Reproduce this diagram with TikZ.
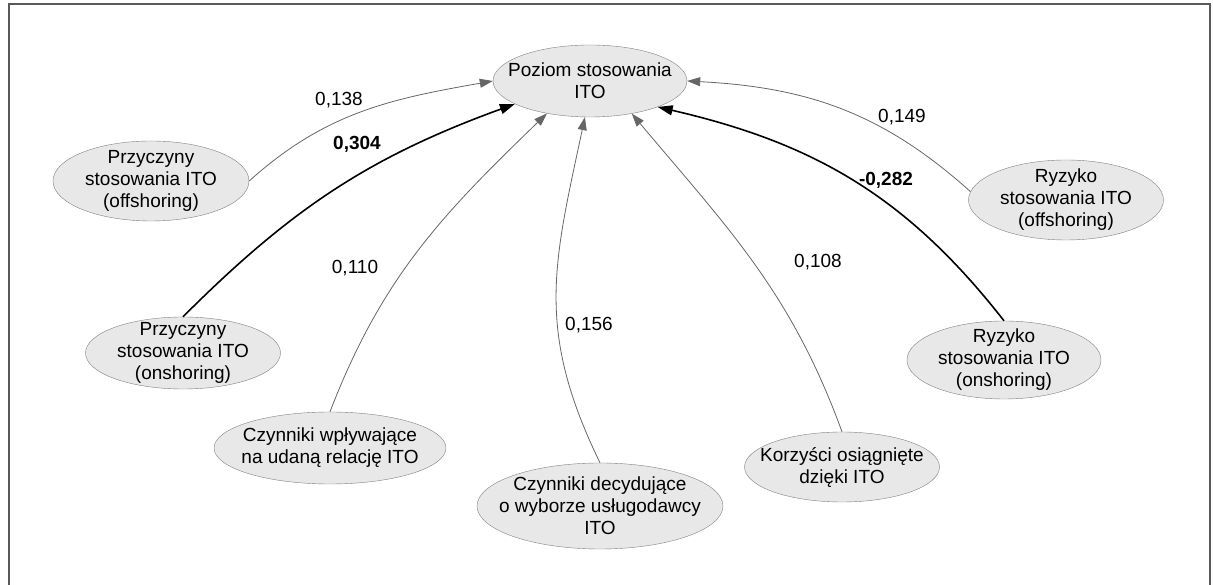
\documentclass[tikz,border=0pt]{standalone}
\usepackage{fontspec}
\setmainfont{Liberation Sans}
\usetikzlibrary{shapes.geometric,arrows.meta}

\begin{document}
\begin{tikzpicture}[x=1pt,y=1pt,
  factor/.style={ellipse,draw=gray,fill=gray!18,inner sep=0pt},
  ftext/.style={align=center,inner sep=0pt,font=\fontsize{19}{22}\selectfont},
  coef/.style={inner sep=0pt,font=\fontsize{19}{22}\selectfont},
  weak/.style={draw=black!60,line width=0.8pt,-{Triangle[length=13pt,width=9pt]}},
  strong/.style={draw=black,line width=1.6pt,-{Triangle[length=15pt,width=10pt]}}]
			\useasboundingbox (0,0) rectangle (1213,585);
			\draw[gray!70!black,line width=1.5pt] (9,0) -- (9,581) -- (1210,581) -- (1210,0);
			\node[factor,minimum width=194pt,minimum height=72pt] (poz) at (590,504) {};
			\node[ftext] (poz-t) at (poz) {Poziom stosowania\\ITO};
			\node[factor,minimum width=196pt,minimum height=80pt] (poff) at (151,404) {};
			\node[ftext] (poff-t) at (poff) {Przyczyny\\stosowania ITO\\(offshoring)};
			\node[factor,minimum width=195pt,minimum height=72pt] (pon) at (183,232) {};
			\node[ftext] (pon-t) at (pon) {Przyczyny\\stosowania ITO\\(onshoring)};
			\node[factor,minimum width=232pt,minimum height=72pt] (wpl) at (330,137) {};
			\node[ftext] (wpl-t) at (wpl) {Czynniki wpływające\\na udaną relację ITO};
			\node[factor,minimum width=246pt,minimum height=86pt] (dec) at (600,79) {};
			\node[ftext] (dec-t) at (dec) {Czynniki decydujące\\o wyborze usługodawcy\\ITO};
			\node[factor,minimum width=195pt,minimum height=70pt] (korz) at (842,118) {};
			\node[ftext] (korz-t) at (korz) {Korzyści osiągnięte\\dzięki ITO};
			\node[factor,minimum width=194pt,minimum height=78pt] (ron) at (1004,225) {};
			\node[ftext] (ron-t) at (ron) {Ryzyko\\stosowania ITO\\(onshoring)};
			\node[factor,minimum width=195pt,minimum height=80pt] (roff) at (1066,385) {};
			\node[ftext] (roff-t) at (roff) {Ryzyko\\stosowania ITO\\(offshoring)};
			\draw[weak] (poff.east) to[out=42,in=190] (poz.west);
			\draw[strong] (pon.north) to[out=45,in=200] (poz.197);
			\draw[weak] (wpl.north) to[out=69,in=224] (poz.217);
			\draw[weak] (dec.north) to[out=116,in=258,looseness=1.1] (poz.262);
			\draw[weak] (korz.north) to[out=110,in=-50] (poz.322);
			\draw[strong] (ron.north) to[out=128,in=-13] (poz.339);
			\draw[weak] (roff.175) to[out=138,in=-3] (poz.east);
			\node[coef] (c138) at (339,485) {0,138};
			\node[coef] (c304) at (357,441) {\bfseries 0,304};
			\node[coef] (c110) at (355,317) {0,110};
			\node[coef] (c156) at (589,260) {0,156};
			\node[coef] (c108) at (818,323) {0,108};
			\node[coef] (c282) at (886,405) {\bfseries -0,282};
			\node[coef] (c149) at (902,468) {0,149};
			\end{tikzpicture}
\end{document}
